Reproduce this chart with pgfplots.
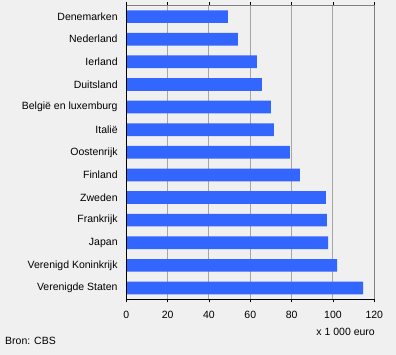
\documentclass[border=0pt]{standalone}
\usepackage{fontspec}
\setmainfont{Liberation Sans}
\usepackage{pgfplots}
\pgfplotsset{compat=1.18}
\definecolor{bg}{HTML}{F0F0F0}
\definecolor{barc}{HTML}{3366FF}
\definecolor{gridc}{HTML}{A6A6A6}
\definecolor{framec}{HTML}{808080}
\begin{document}
\fontsize{10.5}{12}\selectfont
\begin{tikzpicture}
\fill[bg] (0,0) rectangle (396pt,355pt);
\begin{axis}[
  at={(126.3pt,55.7pt)}, anchor=south west,
  scale only axis, width=248pt, height=294pt,
  xbar, bar width=12.7pt,
  xmin=0, xmax=120, ymin=-0.5, ymax=12.5,
  xtick={0,20,...,120}, ytick={0,...,12},
  yticklabels={Verenigde Staten, Verenigd Koninkrijk, Japan, Frankrijk, Zweden, Finland, Oostenrijk, Italië, België en luxemburg, Duitsland, Ierland, Nederland, Denemarken},
  axis background/.style={fill=bg},
  axis line style={draw=none},
  xmajorgrids, grid style={gridc, line width=1pt},
  tick align=outside, major tick length=3pt,
  xtick style={black, line width=0.8pt},
  ytick style={draw=none},
  ticklabel style={font=\fontsize{10.5}{12}\selectfont},
  /pgf/number format/assume math mode=true,
  yticklabel style={xshift=-2pt},
  xticklabel style={yshift=-5pt},
  clip=false,
]
\addplot[fill=barc, draw=none] coordinates {
  (114.6,0) (102.0,1) (97.6,2) (97.1,3) (96.6,4) (84.0,5) (79.2,6)
  (71.4,7) (70.0,8) (65.6,9) (63.2,10) (54.0,11) (49.2,12)
};
\draw[framec, line width=1pt] (rel axis cs:0,1) -- (rel axis cs:1,1) -- (rel axis cs:1,0);
\draw[black, line width=1pt] (rel axis cs:0,1) -- (rel axis cs:0,0) -- (rel axis cs:1,0);
\end{axis}
\node[anchor=east, inner sep=0pt] at (375pt,23pt) {x 1 000 euro};
\node[anchor=west, inner sep=0pt] at (5pt,14pt) {Bron: CBS};
\pgfresetboundingbox
\useasboundingbox (0,0) rectangle (396pt,355pt);
\end{tikzpicture}
\end{document}
